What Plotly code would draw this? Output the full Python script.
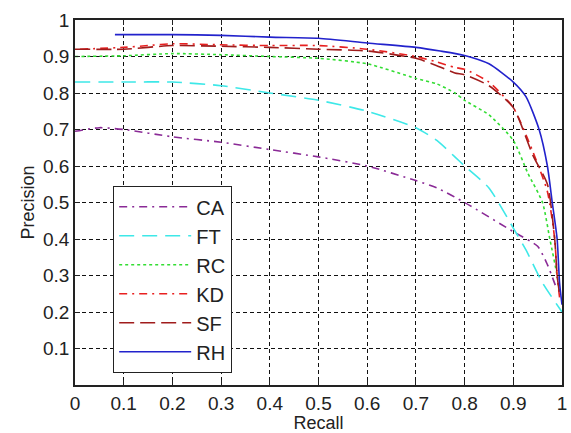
import plotly.graph_objects as go

# ---- data ----
series_names = ["CA", "FT", "RC", "KD", "SF", "RH"]

ca_x = [0.0, 0.05, 0.1, 0.2, 0.3, 0.4, 0.5, 0.6, 0.7, 0.743, 0.8, 0.9, 0.95, 0.97, 0.99]
ca_y = [0.695, 0.705, 0.70, 0.68, 0.665, 0.645, 0.625, 0.60, 0.56, 0.54, 0.50, 0.42, 0.38, 0.33, 0.26]

ft_x = [0.0, 0.1, 0.2, 0.3, 0.4, 0.5, 0.6, 0.7, 0.743, 0.78, 0.8, 0.85, 0.9, 0.926, 0.96, 1.0]
ft_y = [0.83, 0.83, 0.83, 0.82, 0.80, 0.78, 0.75, 0.705, 0.67, 0.625, 0.60, 0.54, 0.43, 0.37, 0.28, 0.20]

rc_x = [0.0, 0.1, 0.2, 0.3, 0.4, 0.5, 0.6, 0.7, 0.743, 0.78, 0.8, 0.85, 0.9, 0.93, 0.96, 0.975, 0.99, 0.995]
rc_y = [0.90, 0.902, 0.908, 0.905, 0.90, 0.895, 0.88, 0.84, 0.825, 0.80, 0.78, 0.74, 0.67, 0.58, 0.50, 0.40, 0.30, 0.25]

kd_x = [0.01, 0.1, 0.15, 0.2, 0.3, 0.4, 0.5, 0.6, 0.7, 0.743, 0.78, 0.8, 0.85, 0.9, 0.94, 0.97, 0.985, 0.99, 0.995]
kd_y = [0.92, 0.925, 0.93, 0.935, 0.932, 0.93, 0.93, 0.92, 0.90, 0.885, 0.87, 0.865, 0.83, 0.76, 0.64, 0.53, 0.40, 0.30, 0.24]

sf_x = [0.0, 0.1, 0.2, 0.3, 0.4, 0.5, 0.6, 0.7, 0.743, 0.78, 0.8, 0.85, 0.9, 0.94, 0.97, 0.985, 0.99, 0.995]
sf_y = [0.92, 0.92, 0.93, 0.928, 0.925, 0.92, 0.915, 0.895, 0.875, 0.855, 0.85, 0.82, 0.76, 0.63, 0.55, 0.40, 0.30, 0.25]

rh_x = [0.082, 0.2, 0.3, 0.4, 0.5, 0.6, 0.7, 0.75, 0.8, 0.85, 0.9, 0.926, 0.953, 0.97, 0.98, 0.99, 0.995, 1.0]
rh_y = [0.96, 0.96, 0.958, 0.953, 0.95, 0.937, 0.925, 0.915, 0.903, 0.88, 0.83, 0.79, 0.70, 0.60, 0.50, 0.40, 0.28, 0.22]

x_ticks = [0, 0.1, 0.2, 0.3, 0.4, 0.5, 0.6, 0.7, 0.8, 0.9, 1]
x_tick_labels = ["0", "0.1", "0.2", "0.3", "0.4", "0.5", "0.6", "0.7", "0.8", "0.9", "1"]
y_ticks = [0.1, 0.2, 0.3, 0.4, 0.5, 0.6, 0.7, 0.8, 0.9, 1]
y_tick_labels = ["0.1", "0.2", "0.3", "0.4", "0.5", "0.6", "0.7", "0.8", "0.9", "1"]

# ---- styles ----
styles = {
    "CA": dict(color="#8a2a96", dash="8px,5px,2px,5px"),
    "FT": dict(color="#3ee8e8", dash="15px,8px"),
    "RC": dict(color="#33dd33", dash="3px,3px"),
    "KD": dict(color="#e82020", dash="8px,5px,2px,5px"),
    "SF": dict(color="#a01c1c", dash="15px,6px"),
    "RH": dict(color="#2222cc", dash="solid"),
}
data = {
    "CA": (ca_x, ca_y), "FT": (ft_x, ft_y), "RC": (rc_x, rc_y),
    "KD": (kd_x, kd_y), "SF": (sf_x, sf_y), "RH": (rh_x, rh_y),
}

fig = go.Figure()
for name in series_names:
    xs, ys = data[name]
    st = styles[name]
    fig.add_trace(go.Scatter(
        x=xs, y=ys, mode="lines", name=name,
        line=dict(color=st["color"], dash=st["dash"], width=1.6,
                  shape="spline", smoothing=0.6),
    ))

font_family = "Liberation Sans, Arial, sans-serif"
axis_common = dict(
    showline=True, linecolor="#222", linewidth=1.5, mirror="allticks",
    ticks="inside", ticklen=5, tickcolor="#222", tickwidth=1,
    showgrid=True, gridcolor="#111", gridwidth=1.2, griddash="4px,3px",
    zeroline=False, tickfont=dict(family=font_family, size=19, color="#222"),
)

fig.update_xaxes(
    range=[0, 1], tickvals=x_ticks, ticktext=x_tick_labels,
    title=dict(text="Recall", font=dict(family=font_family, size=18, color="#222"), standoff=3),
    **axis_common,
)
fig.update_yaxes(
    range=[0, 1], tickvals=y_ticks, ticktext=y_tick_labels,
    title=dict(text="Precision", font=dict(family=font_family, size=18, color="#222"), standoff=4),
    **axis_common,
)

fig.update_layout(
    width=571, height=433,
    margin=dict(l=75, r=4, t=20, b=46),
    paper_bgcolor="white", plot_bgcolor="white",
    font=dict(family=font_family, size=19, color="#222"),
    legend=dict(
        x=0.078, y=0.545, xanchor="left", yanchor="top",
        bgcolor="white", bordercolor="#222", borderwidth=1.2,
        font=dict(family=font_family, size=20, color="#222"),
        tracegroupgap=0, itemwidth=72,
    ),
    showlegend=True,
)

fig.write_html(
    "out.html",
    config={"displayModeBar": False},
    post_script="document.body.style.margin='0';document.body.style.overflow='hidden';",
)
